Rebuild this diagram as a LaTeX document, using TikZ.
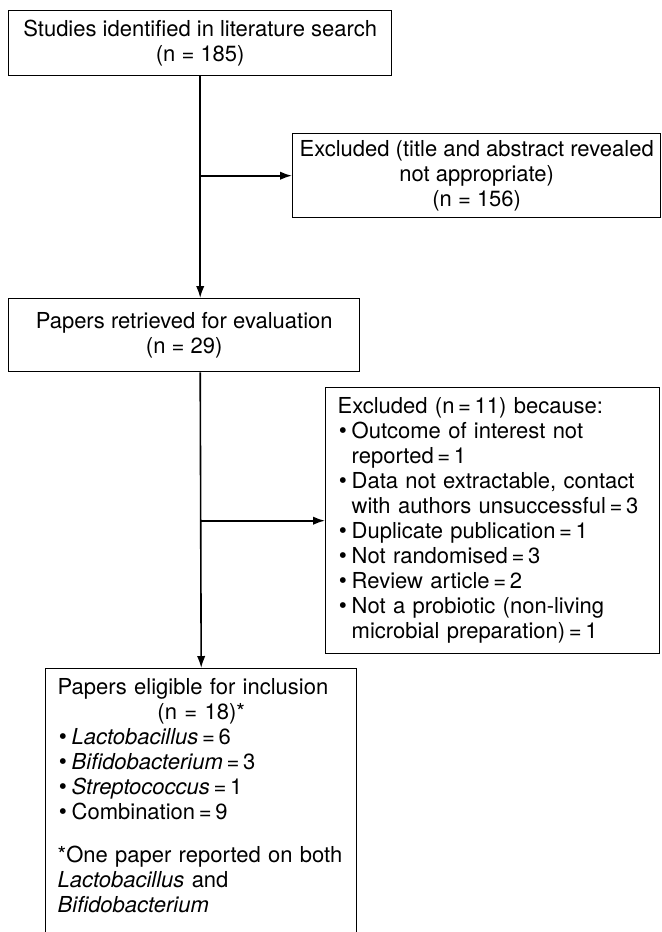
\documentclass[tikz,border=0pt]{standalone}
\usepackage{fontspec}
\setmainfont{TeX Gyre Heros}
\usepackage{tikz}
\usetikzlibrary{arrows.meta,positioning}
\newcommand{\bul}{\makebox[7pt][l]{\hspace{0.6pt}\raisebox{0.3pt}{\scalebox{1.05}{\textbullet}}}}
\newcommand{\ind}{\hspace*{7pt}}

\begin{document}
\begin{tikzpicture}[x=0.5pt, y=-0.5pt,
  box/.style={draw, line width=0.7pt, anchor=north west, inner xsep=6pt, inner ysep=0pt,
              font=\fontsize{11}{12.5}\selectfont},
  cbox/.style={box, align=center},
  lbox/.style={box, align=left},
  arr/.style={-{Latex[length=6pt,width=4.2pt]}, line width=0.8pt}
]
  \useasboundingbox (0,0) rectangle (661,932);

  \node[cbox, minimum width=191.5pt, minimum height=32.5pt] (search) at (8,10)
    {Studies identified in literature search\\(n = 185)};
  \node[cbox, inner xsep=2pt, minimum width=184pt, minimum height=42pt] (excl1) at (292,133)
    {Excluded (title and abstract revealed\\not appropriate)\\(n = 156)};
  \node[cbox, minimum width=175.5pt, minimum height=36.5pt] (retr) at (8,298)
    {Papers retrieved for evaluation\\(n = 29)};
  \node[lbox, text width=155pt, minimum height=133pt] (excl2) at (325,387)
    {Excluded (n\,=\,11) because:\\
     \bul Outcome of interest not\\
     \ind reported\,=\,1\\
     \bul Data not extractable, contact\\
     \ind with authors unsuccessful\,=\,3\\
     \bul Duplicate publication\,=\,1\\
     \bul Not randomised\,=\,3\\
     \bul Review article\,=\,2\\
     \bul Not a probiotic (non-living\\
     \ind microbial preparation)\,=\,1};
  \node[lbox, text width=143.5pt, inner ysep=5pt] (elig) at (45,668)
    {Papers eligible for inclusion\\
     \makebox[143.5pt]{(n = 18)*}\\
     \bul \textit{Lactobacillus}\,=\,6\\
     \bul \textit{Bifidobacterium}\,=\,3\\
     \bul \textit{Streptococcus}\,=\,1\\
     \bul Combination\,=\,9\\[9pt]
     *One paper reported on both\\
     \textit{Lactobacillus} and\\
     \textit{Bifidobacterium}\rule[-60pt]{0pt}{60pt}};

  \draw[arr] (search.south) -- (search.south |- retr.north);
  \draw[arr] (search.south |- excl1.west) -- (excl1.west);
  \draw[arr] (search.south |- retr.south) -- (elig.north);
  \draw[arr] (search.south |- excl2.west) -- (excl2.west);
\end{tikzpicture}
\end{document}
